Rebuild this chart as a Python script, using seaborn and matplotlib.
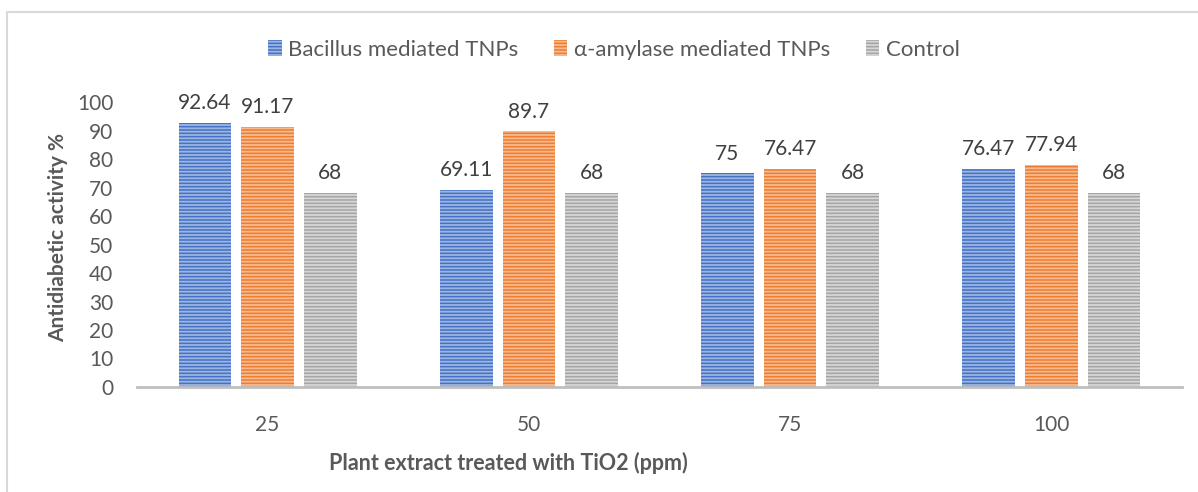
import matplotlib
matplotlib.use("Agg")
import matplotlib.pyplot as plt
from matplotlib.patches import Rectangle
import seaborn as sns
import pandas as pd

# Concentrations of TiO2 (ppm) and antidiabetic activity per treatment
concentrations = ["25", "50", "75", "100"]
bacillus = [92.64, 69.11, 75, 76.47]
amylase = [91.17, 89.7, 76.47, 77.94]
control = [68, 68, 68, 68]
series_names = ["Bacillus mediated TNPs", "\u03b1-amylase mediated TNPs", "Control"]

colors = ["#4472C4", "#ED7D31", "#A5A5A5"]
stripe_colors = ["#9DB5E3", "#F7B98D", "#D6D6D6"]
text_color = "#595959"

df = pd.DataFrame({
    "conc": concentrations * 3,
    "value": bacillus + amylase + control,
    "series": [series_names[0]] * 4 + [series_names[1]] * 4 + [series_names[2]] * 4,
})

sns.set_theme(style="white")
plt.rcParams["font.family"] = ["Lato", "DejaVu Sans"]
plt.rcParams["hatch.linewidth"] = 1.3

fig = plt.figure(figsize=(11.98, 4.92), dpi=100)
W, H = 1198, 492
ax = fig.add_axes([137 / W, (H - 387) / H, 1045 / W, 285 / H])

sns.barplot(data=df, x="conc", y="value", hue="series", order=concentrations,
            hue_order=series_names, palette=colors, width=0.72, gap=0.16,
            saturation=1, ax=ax, legend=False)

# Horizontal stripe fill on every bar
for container, sc in zip(ax.containers, stripe_colors):
    for bar in container:
        bar.set_edgecolor(sc)
        bar.set_linewidth(0)
        bar.set_hatch("-----")
    ax.bar_label(container, labels=[f"{v:g}" for v in container.datavalues],
                 padding=7, fontsize=15, color="#404040")

ax.set_ylim(0, 100)
ax.set_xlim(-0.5, 3.5)
ax.set_yticks(range(0, 101, 10))
ax.tick_params(axis="both", labelsize=15, colors=text_color, length=0)
ax.tick_params(axis="y", pad=17)
ax.tick_params(axis="x", pad=20)
for s in ["top", "right", "left"]:
    ax.spines[s].set_visible(False)
ax.spines["bottom"].set_color("#BFBFBF")
ax.spines["bottom"].set_linewidth(2)
ax.set_xlabel("")
ax.set_ylabel("")

fig.text(58 / W, 1 - 237 / H, "Antidiabetic activity %", rotation=90,
         ha="center", va="center", fontsize=15, fontweight="bold", color=text_color)
fig.text(508 / W, 1 - 463 / H, "Plant extract treated with TiO2 (ppm)",
         ha="center", va="center", fontsize=15.5, fontweight="bold", color=text_color)

# Legend with striped squares
handles = [Rectangle((0, 0), 1, 1, facecolor=c, edgecolor=sc, linewidth=0, hatch="-----")
           for c, sc in zip(colors, stripe_colors)]
fig.legend(handles, series_names, loc="center", bbox_to_anchor=(614 / W, 1 - 50 / H),
           ncol=3, frameon=False, fontsize=16, labelcolor=text_color,
           handlelength=0.6, handleheight=0.7, handletextpad=0.3, columnspacing=1.6)

# Chart frame
fig.patches.append(Rectangle((7 / W, -0.1), 1.2, 1 - 12 / H + 0.1, transform=fig.transFigure,
                             fill=False, edgecolor="#D9D9D9", linewidth=1.5))

fig.savefig("out.png", dpi=100, facecolor="white")
